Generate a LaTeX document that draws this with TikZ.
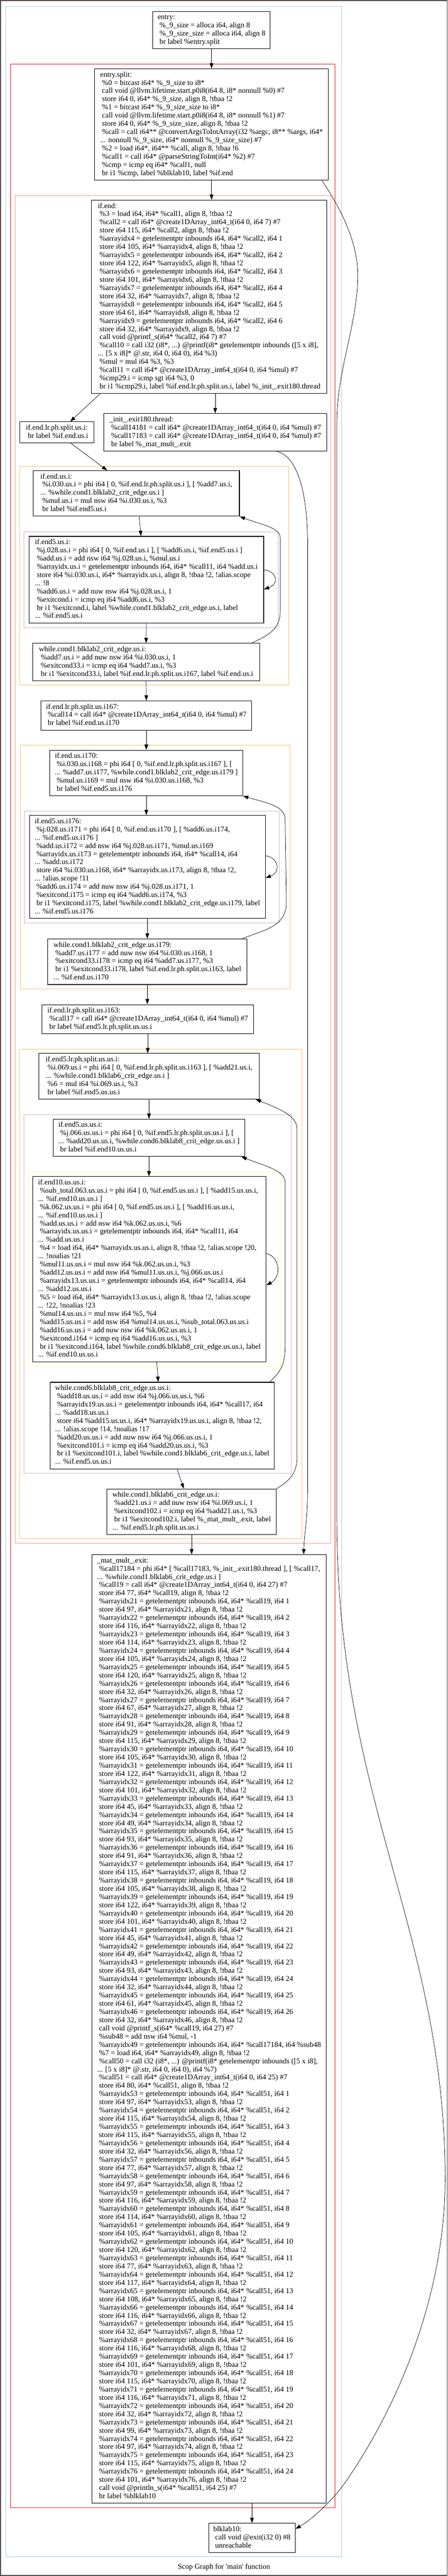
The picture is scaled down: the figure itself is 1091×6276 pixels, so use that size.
\documentclass[tikz,border=0pt]{standalone}
\usepackage{fontspec}
\newfontfamily\irfont{Liberation Serif}
\usetikzlibrary{arrows.meta}
\definecolor{regblue}{HTML}{A6CEE3}
\definecolor{regred}{HTML}{E31A1C}
\definecolor{regpink}{HTML}{FB9A99}
\definecolor{regorange}{HTML}{FDBF6F}
\definecolor{regpurple}{HTML}{CAB2D6}
\definecolor{regyellow}{HTML}{FFFF99}
\newcommand\irlines[1]{\begin{tabular}{@{}l@{}}#1\end{tabular}}

\begin{document}
\begin{tikzpicture}[x=1pt, y=-1pt,
    bb/.style={draw, line width=1.3pt, rectangle, inner sep=0pt, anchor=north west,
      font=\irfont\fontsize{18.2}{20}\selectfont},
    clus/.style={draw=#1, line width=1.2pt},
    cfg/.style={-{Triangle[length=13pt, width=9pt]}, line width=0.9pt}]

\useasboundingbox (0,0) rectangle (1091,6276);
\draw[gray!60!black, line width=2pt] (1,1) rectangle (1090,6275);

% regions
\draw[clus=regblue] (15,16) rectangle (833,6229);
\draw[clus=regred] (26,156) rectangle (817,6109);
\draw[clus=regpink] (37,476) rectangle (807,3760);
\draw[clus=regorange] (48,1136) rectangle (704,1669);
\draw[clus=regpurple] (58,1296) rectangle (678,1529);
\draw[clus=regorange] (49,1816) rectangle (707,2409);
\draw[clus=regpurple] (60,1976) rectangle (681,2249);
\draw[clus=regorange] (48,2556) rectangle (736,3749);
\draw[clus=regpurple] (58,2716) rectangle (710,3589);
\draw[clus=regyellow] (70,2856) rectangle (684,3329);

% entry
\node[bb, minimum width=286pt, minimum height=91pt] (entry) at (372,27) {\irlines{entry:\\
\ \%\_9\_size = alloca i64, align 8\\
\ \%\_9\_size\_size = alloca i64, align 8\\
\ br label \%entry.split}};

\node[bb, minimum width=570pt, minimum height=271pt] (esplit) at (230,167) {\irlines{entry.split:\\
\ \%0 = bitcast i64* \%\_9\_size to i8*\\
\ call void @llvm.lifetime.start.p0i8(i64 8, i8* nonnull \%0) \#7\\
\ store i64 0, i64* \%\_9\_size, align 8, !tbaa !2\\
\ \%1 = bitcast i64* \%\_9\_size\_size to i8*\\
\ call void @llvm.lifetime.start.p0i8(i64 8, i8* nonnull \%1) \#7\\
\ store i64 0, i64* \%\_9\_size\_size, align 8, !tbaa !2\\
\ \%call = call i64** @convertArgsToIntArray(i32 \%argc, i8** \%args, i64*\\
... nonnull \%\_9\_size, i64* nonnull \%\_9\_size\_size) \#7\\
\ \%2 = load i64*, i64** \%call, align 8, !tbaa !6\\
\ \%call1 = call i64* @parseStringToInt(i64* \%2) \#7\\
\ \%cmp = icmp eq i64* \%call1, null\\
\ br i1 \%cmp, label \%blklab10, label \%if.end}};

\node[bb, minimum width=574pt, minimum height=471pt] (ifend) at (222,487) {\irlines{if.end:\\
\ \%3 = load i64, i64* \%call1, align 8, !tbaa !2\\
\ \%call2 = call i64* @create1DArray\_int64\_t(i64 0, i64 7) \#7\\
\ store i64 115, i64* \%call2, align 8, !tbaa !2\\
\ \%arrayidx4 = getelementptr inbounds i64, i64* \%call2, i64 1\\
\ store i64 105, i64* \%arrayidx4, align 8, !tbaa !2\\
\ \%arrayidx5 = getelementptr inbounds i64, i64* \%call2, i64 2\\
\ store i64 122, i64* \%arrayidx5, align 8, !tbaa !2\\
\ \%arrayidx6 = getelementptr inbounds i64, i64* \%call2, i64 3\\
\ store i64 101, i64* \%arrayidx6, align 8, !tbaa !2\\
\ \%arrayidx7 = getelementptr inbounds i64, i64* \%call2, i64 4\\
\ store i64 32, i64* \%arrayidx7, align 8, !tbaa !2\\
\ \%arrayidx8 = getelementptr inbounds i64, i64* \%call2, i64 5\\
\ store i64 61, i64* \%arrayidx8, align 8, !tbaa !2\\
\ \%arrayidx9 = getelementptr inbounds i64, i64* \%call2, i64 6\\
\ store i64 32, i64* \%arrayidx9, align 8, !tbaa !2\\
\ call void @printf\_s(i64* \%call2, i64 7) \#7\\
\ \%call10 = call i32 (i8*, ...) @printf(i8* getelementptr inbounds ([5 x i8],\\
... [5 x i8]* @.str, i64 0, i64 0), i64 \%3)\\
\ \%mul = mul i64 \%3, \%3\\
\ \%call11 = call i64* @create1DArray\_int64\_t(i64 0, i64 \%mul) \#7\\
\ \%cmp29.i = icmp sgt i64 \%3, 0\\
\ br i1 \%cmp29.i, label \%if.end.lr.ph.split.us.i, label \%\_init\_.exit180.thread}};

\node[bb, minimum width=181pt, minimum height=51pt] (lrph) at (48,1027) {\irlines{if.end.lr.ph.split.us.i:\\
\ br label \%if.end.us.i}};

\node[bb, minimum width=544pt, minimum height=91pt] (init) at (252,1007) {\irlines{\_init\_.exit180.thread:\\
\ \%call14181 = call i64* @create1DArray\_int64\_t(i64 0, i64 \%mul) \#7\\
\ \%call17183 = call i64* @create1DArray\_int64\_t(i64 0, i64 \%mul) \#7\\
\ br label \%\_mat\_mult\_.exit}};

% loop i (first)
\node[bb, minimum width=503pt, minimum height=111pt] (endus) at (80,1146) {\irlines{if.end.us.i:\\
\ \%i.030.us.i = phi i64 [ 0, \%if.end.lr.ph.split.us.i ], [ \%add7.us.i,\\
... \%while.cond1.blklab2\_crit\_edge.us.i ]\\
\ \%mul.us.i = mul nsw i64 \%i.030.us.i, \%3\\
\ br label \%if.end5.us.i}};

\node[bb, minimum width=572pt, minimum height=211pt] (end5us) at (70,1306) {\irlines{if.end5.us.i:\\
\ \%j.028.us.i = phi i64 [ 0, \%if.end.us.i ], [ \%add6.us.i, \%if.end5.us.i ]\\
\ \%add.us.i = add nsw i64 \%j.028.us.i, \%mul.us.i\\
\ \%arrayidx.us.i = getelementptr inbounds i64, i64* \%call11, i64 \%add.us.i\\
\ store i64 \%i.030.us.i, i64* \%arrayidx.us.i, align 8, !tbaa !2, !alias.scope\\
... !8\\
\ \%add6.us.i = add nuw nsw i64 \%j.028.us.i, 1\\
\ \%exitcond.i = icmp eq i64 \%add6.us.i, \%3\\
\ br i1 \%exitcond.i, label \%while.cond1.blklab2\_crit\_edge.us.i, label\\
... \%if.end5.us.i}};

\node[bb, minimum width=553pt, minimum height=91pt] (wcone) at (79,1567) {\irlines{while.cond1.blklab2\_crit\_edge.us.i:\\
\ \%add7.us.i = add nuw nsw i64 \%i.030.us.i, 1\\
\ \%exitcond33.i = icmp eq i64 \%add7.us.i, \%3\\
\ br i1 \%exitcond33.i, label \%if.end.lr.ph.split.us.i167, label \%if.end.us.i}};

\node[bb, minimum width=514pt, minimum height=71pt] (lrphb) at (99,1707) {\irlines{if.end.lr.ph.split.us.i167:\\
\ \%call14 = call i64* @create1DArray\_int64\_t(i64 0, i64 \%mul) \#7\\
\ br label \%if.end.us.i170}};

% loop i (second)
\node[bb, minimum width=470pt, minimum height=111pt] (endusb) at (121,1827) {\irlines{if.end.us.i170:\\
\ \%i.030.us.i168 = phi i64 [ 0, \%if.end.lr.ph.split.us.i167 ], [\\
... \%add7.us.i177, \%while.cond1.blklab2\_crit\_edge.us.i179 ]\\
\ \%mul.us.i169 = mul nsw i64 \%i.030.us.i168, \%3\\
\ br label \%if.end5.us.i176}};

\node[bb, minimum width=575pt, minimum height=251pt] (end5usb) at (71,1986) {\irlines{if.end5.us.i176:\\
\ \%j.028.us.i171 = phi i64 [ 0, \%if.end.us.i170 ], [ \%add6.us.i174,\\
... \%if.end5.us.i176 ]\\
\ \%add.us.i172 = add nsw i64 \%j.028.us.i171, \%mul.us.i169\\
\ \%arrayidx.us.i173 = getelementptr inbounds i64, i64* \%call14, i64\\
... \%add.us.i172\\
\ store i64 \%i.030.us.i168, i64* \%arrayidx.us.i173, align 8, !tbaa !2,\\
... !alias.scope !11\\
\ \%add6.us.i174 = add nuw nsw i64 \%j.028.us.i171, 1\\
\ \%exitcond.i175 = icmp eq i64 \%add6.us.i174, \%3\\
\ br i1 \%exitcond.i175, label \%while.cond1.blklab2\_crit\_edge.us.i179, label\\
... \%if.end5.us.i176}};

\node[bb, minimum width=485pt, minimum height=111pt] (wconeb) at (116,2287) {\irlines{while.cond1.blklab2\_crit\_edge.us.i179:\\
\ \%add7.us.i177 = add nuw nsw i64 \%i.030.us.i168, 1\\
\ \%exitcond33.i178 = icmp eq i64 \%add7.us.i177, \%3\\
\ br i1 \%exitcond33.i178, label \%if.end.lr.ph.split.us.i163, label\\
... \%if.end.us.i170}};

\node[bb, minimum width=515pt, minimum height=71pt] (lrphc) at (102,2447) {\irlines{if.end.lr.ph.split.us.i163:\\
\ \%call17 = call i64* @create1DArray\_int64\_t(i64 0, i64 \%mul) \#7\\
\ br label \%if.end5.lr.ph.split.us.us.i}};

% loop i, j, k (product)
\node[bb, minimum width=537pt, minimum height=111pt] (endlrph) at (94,2566) {\irlines{if.end5.lr.ph.split.us.us.i:\\
\ \%i.069.us.i = phi i64 [ 0, \%if.end.lr.ph.split.us.i163 ], [ \%add21.us.i,\\
... \%while.cond1.blklab6\_crit\_edge.us.i ]\\
\ \%6 = mul i64 \%i.069.us.i, \%3\\
\ br label \%if.end5.us.us.i}};

\node[bb, minimum width=467pt, minimum height=91pt] (endusus) at (129,2726) {\irlines{if.end5.us.us.i:\\
\ \%j.066.us.us.i = phi i64 [ 0, \%if.end5.lr.ph.split.us.us.i ], [\\
... \%add20.us.us.i, \%while.cond6.blklab8\_crit\_edge.us.us.i ]\\
\ br label \%if.end10.us.us.i}};

\node[bb, minimum width=569pt, minimum height=451pt] (endten) at (79,2866) {\irlines{if.end10.us.us.i:\\
\ \%sub\_total.063.us.us.i = phi i64 [ 0, \%if.end5.us.us.i ], [ \%add15.us.us.i,\\
... \%if.end10.us.us.i ]\\
\ \%k.062.us.us.i = phi i64 [ 0, \%if.end5.us.us.i ], [ \%add16.us.us.i,\\
... \%if.end10.us.us.i ]\\
\ \%add.us.us.i = add nsw i64 \%k.062.us.us.i, \%6\\
\ \%arrayidx.us.us.i = getelementptr inbounds i64, i64* \%call11, i64\\
... \%add.us.us.i\\
\ \%4 = load i64, i64* \%arrayidx.us.us.i, align 8, !tbaa !2, !alias.scope !20,\\
... !noalias !21\\
\ \%mul11.us.us.i = mul nsw i64 \%k.062.us.us.i, \%3\\
\ \%add12.us.us.i = add nsw i64 \%mul11.us.us.i, \%j.066.us.us.i\\
\ \%arrayidx13.us.us.i = getelementptr inbounds i64, i64* \%call14, i64\\
... \%add12.us.us.i\\
\ \%5 = load i64, i64* \%arrayidx13.us.us.i, align 8, !tbaa !2, !alias.scope\\
... !22, !noalias !23\\
\ \%mul14.us.us.i = mul nsw i64 \%5, \%4\\
\ \%add15.us.us.i = add nsw i64 \%mul14.us.us.i, \%sub\_total.063.us.us.i\\
\ \%add16.us.us.i = add nuw nsw i64 \%k.062.us.us.i, 1\\
\ \%exitcond.i164 = icmp eq i64 \%add16.us.us.i, \%3\\
\ br i1 \%exitcond.i164, label \%while.cond6.blklab8\_crit\_edge.us.us.i, label\\
... \%if.end10.us.us.i}};

\node[bb, minimum width=546pt, minimum height=211pt] (wcsix) at (122,3367) {\irlines{while.cond6.blklab8\_crit\_edge.us.us.i:\\
\ \%add18.us.us.i = add nsw i64 \%j.066.us.us.i, \%6\\
\ \%arrayidx19.us.us.i = getelementptr inbounds i64, i64* \%call17, i64\\
... \%add18.us.us.i\\
\ store i64 \%add15.us.us.i, i64* \%arrayidx19.us.us.i, align 8, !tbaa !2,\\
... !alias.scope !14, !noalias !17\\
\ \%add20.us.us.i = add nuw nsw i64 \%j.066.us.us.i, 1\\
\ \%exitcond101.i = icmp eq i64 \%add20.us.us.i, \%3\\
\ br i1 \%exitcond101.i, label \%while.cond1.blklab6\_crit\_edge.us.i, label\\
... \%if.end5.us.us.i}};

\node[bb, minimum width=413pt, minimum height=111pt] (wconec) at (260,3627) {\irlines{while.cond1.blklab6\_crit\_edge.us.i:\\
\ \%add21.us.i = add nuw nsw i64 \%i.069.us.i, 1\\
\ \%exitcond102.i = icmp eq i64 \%add21.us.i, \%3\\
\ br i1 \%exitcond102.i, label \%\_mat\_mult\_.exit, label\\
... \%if.end5.lr.ph.split.us.us.i}};

% exit of the product
\node[bb, minimum width=572pt, minimum height=2311pt] (mmexit) at (223,3787) {\irlines{\_mat\_mult\_.exit:\\
\ \%call17184 = phi i64* [ \%call17183, \%\_init\_.exit180.thread ], [ \%call17,\\
... \%while.cond1.blklab6\_crit\_edge.us.i ]\\
\ \%call19 = call i64* @create1DArray\_int64\_t(i64 0, i64 27) \#7\\
\ store i64 77, i64* \%call19, align 8, !tbaa !2\\
\ \%arrayidx21 = getelementptr inbounds i64, i64* \%call19, i64 1\\
\ store i64 97, i64* \%arrayidx21, align 8, !tbaa !2\\
\ \%arrayidx22 = getelementptr inbounds i64, i64* \%call19, i64 2\\
\ store i64 116, i64* \%arrayidx22, align 8, !tbaa !2\\
\ \%arrayidx23 = getelementptr inbounds i64, i64* \%call19, i64 3\\
\ store i64 114, i64* \%arrayidx23, align 8, !tbaa !2\\
\ \%arrayidx24 = getelementptr inbounds i64, i64* \%call19, i64 4\\
\ store i64 105, i64* \%arrayidx24, align 8, !tbaa !2\\
\ \%arrayidx25 = getelementptr inbounds i64, i64* \%call19, i64 5\\
\ store i64 120, i64* \%arrayidx25, align 8, !tbaa !2\\
\ \%arrayidx26 = getelementptr inbounds i64, i64* \%call19, i64 6\\
\ store i64 32, i64* \%arrayidx26, align 8, !tbaa !2\\
\ \%arrayidx27 = getelementptr inbounds i64, i64* \%call19, i64 7\\
\ store i64 67, i64* \%arrayidx27, align 8, !tbaa !2\\
\ \%arrayidx28 = getelementptr inbounds i64, i64* \%call19, i64 8\\
\ store i64 91, i64* \%arrayidx28, align 8, !tbaa !2\\
\ \%arrayidx29 = getelementptr inbounds i64, i64* \%call19, i64 9\\
\ store i64 115, i64* \%arrayidx29, align 8, !tbaa !2\\
\ \%arrayidx30 = getelementptr inbounds i64, i64* \%call19, i64 10\\
\ store i64 105, i64* \%arrayidx30, align 8, !tbaa !2\\
\ \%arrayidx31 = getelementptr inbounds i64, i64* \%call19, i64 11\\
\ store i64 122, i64* \%arrayidx31, align 8, !tbaa !2\\
\ \%arrayidx32 = getelementptr inbounds i64, i64* \%call19, i64 12\\
\ store i64 101, i64* \%arrayidx32, align 8, !tbaa !2\\
\ \%arrayidx33 = getelementptr inbounds i64, i64* \%call19, i64 13\\
\ store i64 45, i64* \%arrayidx33, align 8, !tbaa !2\\
\ \%arrayidx34 = getelementptr inbounds i64, i64* \%call19, i64 14\\
\ store i64 49, i64* \%arrayidx34, align 8, !tbaa !2\\
\ \%arrayidx35 = getelementptr inbounds i64, i64* \%call19, i64 15\\
\ store i64 93, i64* \%arrayidx35, align 8, !tbaa !2\\
\ \%arrayidx36 = getelementptr inbounds i64, i64* \%call19, i64 16\\
\ store i64 91, i64* \%arrayidx36, align 8, !tbaa !2\\
\ \%arrayidx37 = getelementptr inbounds i64, i64* \%call19, i64 17\\
\ store i64 115, i64* \%arrayidx37, align 8, !tbaa !2\\
\ \%arrayidx38 = getelementptr inbounds i64, i64* \%call19, i64 18\\
\ store i64 105, i64* \%arrayidx38, align 8, !tbaa !2\\
\ \%arrayidx39 = getelementptr inbounds i64, i64* \%call19, i64 19\\
\ store i64 122, i64* \%arrayidx39, align 8, !tbaa !2\\
\ \%arrayidx40 = getelementptr inbounds i64, i64* \%call19, i64 20\\
\ store i64 101, i64* \%arrayidx40, align 8, !tbaa !2\\
\ \%arrayidx41 = getelementptr inbounds i64, i64* \%call19, i64 21\\
\ store i64 45, i64* \%arrayidx41, align 8, !tbaa !2\\
\ \%arrayidx42 = getelementptr inbounds i64, i64* \%call19, i64 22\\
\ store i64 49, i64* \%arrayidx42, align 8, !tbaa !2\\
\ \%arrayidx43 = getelementptr inbounds i64, i64* \%call19, i64 23\\
\ store i64 93, i64* \%arrayidx43, align 8, !tbaa !2\\
\ \%arrayidx44 = getelementptr inbounds i64, i64* \%call19, i64 24\\
\ store i64 32, i64* \%arrayidx44, align 8, !tbaa !2\\
\ \%arrayidx45 = getelementptr inbounds i64, i64* \%call19, i64 25\\
\ store i64 61, i64* \%arrayidx45, align 8, !tbaa !2\\
\ \%arrayidx46 = getelementptr inbounds i64, i64* \%call19, i64 26\\
\ store i64 32, i64* \%arrayidx46, align 8, !tbaa !2\\
\ call void @printf\_s(i64* \%call19, i64 27) \#7\\
\ \%sub48 = add nsw i64 \%mul, -1\\
\ \%arrayidx49 = getelementptr inbounds i64, i64* \%call17184, i64 \%sub48\\
\ \%7 = load i64, i64* \%arrayidx49, align 8, !tbaa !2\\
\ \%call50 = call i32 (i8*, ...) @printf(i8* getelementptr inbounds ([5 x i8],\\
... [5 x i8]* @.str, i64 0, i64 0), i64 \%7)\\
\ \%call51 = call i64* @create1DArray\_int64\_t(i64 0, i64 25) \#7\\
\ store i64 80, i64* \%call51, align 8, !tbaa !2\\
\ \%arrayidx53 = getelementptr inbounds i64, i64* \%call51, i64 1\\
\ store i64 97, i64* \%arrayidx53, align 8, !tbaa !2\\
\ \%arrayidx54 = getelementptr inbounds i64, i64* \%call51, i64 2\\
\ store i64 115, i64* \%arrayidx54, align 8, !tbaa !2\\
\ \%arrayidx55 = getelementptr inbounds i64, i64* \%call51, i64 3\\
\ store i64 115, i64* \%arrayidx55, align 8, !tbaa !2\\
\ \%arrayidx56 = getelementptr inbounds i64, i64* \%call51, i64 4\\
\ store i64 32, i64* \%arrayidx56, align 8, !tbaa !2\\
\ \%arrayidx57 = getelementptr inbounds i64, i64* \%call51, i64 5\\
\ store i64 77, i64* \%arrayidx57, align 8, !tbaa !2\\
\ \%arrayidx58 = getelementptr inbounds i64, i64* \%call51, i64 6\\
\ store i64 97, i64* \%arrayidx58, align 8, !tbaa !2\\
\ \%arrayidx59 = getelementptr inbounds i64, i64* \%call51, i64 7\\
\ store i64 116, i64* \%arrayidx59, align 8, !tbaa !2\\
\ \%arrayidx60 = getelementptr inbounds i64, i64* \%call51, i64 8\\
\ store i64 114, i64* \%arrayidx60, align 8, !tbaa !2\\
\ \%arrayidx61 = getelementptr inbounds i64, i64* \%call51, i64 9\\
\ store i64 105, i64* \%arrayidx61, align 8, !tbaa !2\\
\ \%arrayidx62 = getelementptr inbounds i64, i64* \%call51, i64 10\\
\ store i64 120, i64* \%arrayidx62, align 8, !tbaa !2\\
\ \%arrayidx63 = getelementptr inbounds i64, i64* \%call51, i64 11\\
\ store i64 77, i64* \%arrayidx63, align 8, !tbaa !2\\
\ \%arrayidx64 = getelementptr inbounds i64, i64* \%call51, i64 12\\
\ store i64 117, i64* \%arrayidx64, align 8, !tbaa !2\\
\ \%arrayidx65 = getelementptr inbounds i64, i64* \%call51, i64 13\\
\ store i64 108, i64* \%arrayidx65, align 8, !tbaa !2\\
\ \%arrayidx66 = getelementptr inbounds i64, i64* \%call51, i64 14\\
\ store i64 116, i64* \%arrayidx66, align 8, !tbaa !2\\
\ \%arrayidx67 = getelementptr inbounds i64, i64* \%call51, i64 15\\
\ store i64 32, i64* \%arrayidx67, align 8, !tbaa !2\\
\ \%arrayidx68 = getelementptr inbounds i64, i64* \%call51, i64 16\\
\ store i64 116, i64* \%arrayidx68, align 8, !tbaa !2\\
\ \%arrayidx69 = getelementptr inbounds i64, i64* \%call51, i64 17\\
\ store i64 101, i64* \%arrayidx69, align 8, !tbaa !2\\
\ \%arrayidx70 = getelementptr inbounds i64, i64* \%call51, i64 18\\
\ store i64 115, i64* \%arrayidx70, align 8, !tbaa !2\\
\ \%arrayidx71 = getelementptr inbounds i64, i64* \%call51, i64 19\\
\ store i64 116, i64* \%arrayidx71, align 8, !tbaa !2\\
\ \%arrayidx72 = getelementptr inbounds i64, i64* \%call51, i64 20\\
\ store i64 32, i64* \%arrayidx72, align 8, !tbaa !2\\
\ \%arrayidx73 = getelementptr inbounds i64, i64* \%call51, i64 21\\
\ store i64 99, i64* \%arrayidx73, align 8, !tbaa !2\\
\ \%arrayidx74 = getelementptr inbounds i64, i64* \%call51, i64 22\\
\ store i64 97, i64* \%arrayidx74, align 8, !tbaa !2\\
\ \%arrayidx75 = getelementptr inbounds i64, i64* \%call51, i64 23\\
\ store i64 115, i64* \%arrayidx75, align 8, !tbaa !2\\
\ \%arrayidx76 = getelementptr inbounds i64, i64* \%call51, i64 24\\
\ store i64 101, i64* \%arrayidx76, align 8, !tbaa !2\\
\ call void @println\_s(i64* \%call51, i64 25) \#7\\
\ br label \%blklab10}};

\node[bb, minimum width=211pt, minimum height=71pt] (blk) at (508,6147) {\irlines{blklab10:\\
\ call void @exit(i32 0) \#8\\
\ unreachable}};

\node[font=\irfont\fontsize{18.2}{20}\selectfont] (title) at (546,6255) {Scop Graph for \textquotesingle main\textquotesingle\ function};

% straight edges
\draw[cfg] (entry.south) -- (esplit.north);
\draw[cfg] (esplit.south) -- (esplit.south |- ifend.north);
\draw[cfg] ([xshift=22pt]ifend.south west) -- ([xshift=32pt]lrph.north);
\draw[cfg] (init.north |- ifend.south) -- (init.north);
\draw[cfg] ([xshift=33pt]lrph.south) -- ([xshift=-71pt]endus.north);
\draw[cfg] ([xshift=7pt]endus.south) -- ([xshift=-13pt]end5us.north);
\draw[cfg] (end5us.south) -- (wcone.north);
\draw[cfg] (wcone.south) -- (lrphb.north);
\draw[cfg] (lrphb.south) -- (endusb.north);
\draw[cfg] (endusb.south) -- (endusb.south |- end5usb.north);
\draw[cfg] (end5usb.south) -- (wconeb.north);
\draw[cfg] (wconeb.south) -- (wconeb.south |- lrphc.north);
\draw[cfg] (lrphc.south) -- (lrphc.south |- endlrph.north);
\draw[cfg] (endlrph.south) -- (endlrph.south |- endusus.north);
\draw[cfg] (endusus.south) -- (endusus.south |- endten.north);
\draw[cfg] ([xshift=18pt]endten.south) -- ([xshift=-10pt]wcsix.north);
\draw[cfg] ([xshift=36pt]wcsix.south) -- ([xshift=-19pt]wconec.north);
\draw[cfg] (wconec.south) -- (wconec.south |- mmexit.north);
\draw[cfg] (blk.north |- mmexit.south) -- (blk.north);

% self loops
\draw[cfg] ([yshift=-82pt]end5us.north east) .. controls +(32,4) and +(38,-14) .. ([yshift=-130pt]end5us.north east);
\draw[cfg] ([yshift=-99pt]end5usb.north east) .. controls +(32,4) and +(38,-14) .. ([yshift=-153pt]end5usb.north east);
\draw[cfg] ([yshift=-188pt]endten.north east) .. controls +(32,6) and +(38,-20) .. ([yshift=-265pt]endten.north east);

% back edges
\draw[cfg] ([xshift=-21pt]wcone.north east) .. controls (650,1550) and (683,1535) .. (683,1490)
  -- (683,1310) .. controls (683,1285) and (635,1278) .. (endus.south east);
\draw[cfg] ([xshift=-12pt]wconeb.north east) .. controls (645,2265) and (697,2258) .. (698,2200)
  -- (695,1995) .. controls (694,1962) and (645,1955) .. (endusb.south east);
\draw[cfg] ([xshift=-12pt]wcsix.north east) .. controls (680,3345) and (695,3330) .. (695,3280)
  -- (695,2880) .. controls (695,2852) and (645,2840) .. ([xshift=-9pt]endusus.south east);
\draw[cfg] (wconec.north east) .. controls (700,3610) and (724,3595) .. (724,3550)
  -- (724,2750) .. controls (724,2720) and (686,2703) .. ([xshift=-9pt]endlrph.south east);

% long edges
\draw[cfg] ([xshift=-124pt]init.south east) .. controls (725,1110) and (750,1200) .. (750,1330)
  -- (750,3620) .. controls (750,3700) and (741,3745) .. ([xshift=-56pt]mmexit.north east);
\draw[cfg] ([xshift=-17pt]esplit.south east) .. controls (820,492) and (872,580) .. (872,670)
  .. controls (872,790) and (821,900) .. (821,1030) -- (821,3698)
  .. controls (821,4390) and (1085,4706) .. (1085,5310)
  .. controls (1085,5560) and (992,5828) .. (845,6043)
  .. controls (815,6087) and (765,6135) .. ([yshift=22pt]blk.east);

\end{tikzpicture}
\end{document}
